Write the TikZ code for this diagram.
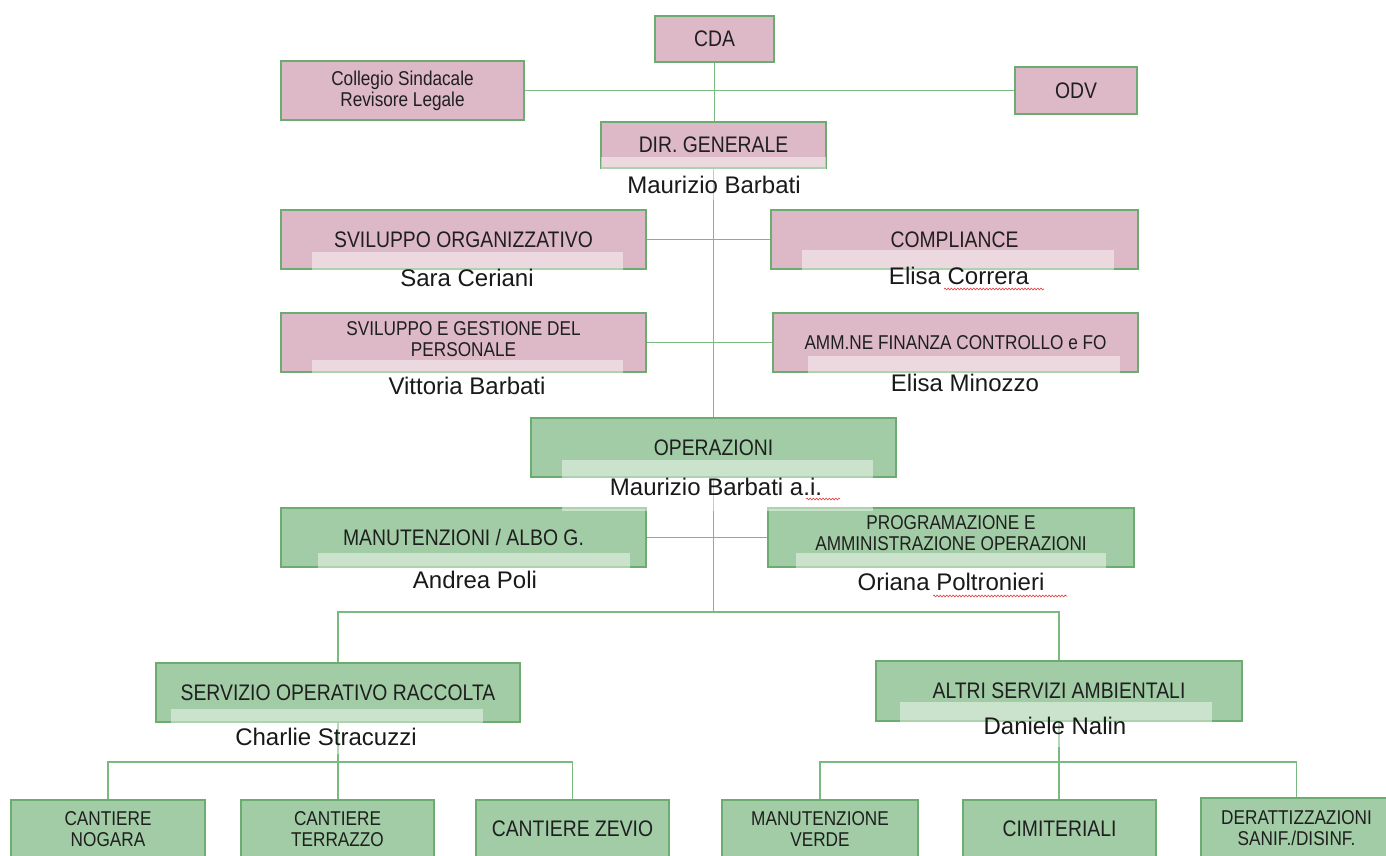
\documentclass[tikz,border=0pt]{standalone}
\usepackage{fontspec}
\setmainfont{Liberation Sans}
\newfontfamily\bxfont[FakeStretch=0.86]{Liberation Sans}
\usetikzlibrary{decorations.pathmorphing}
\definecolor{pinkf}{RGB}{221,184,198}
\definecolor{greenf}{RGB}{161,204,165}
\definecolor{bordc}{RGB}{108,172,112}
\definecolor{connc}{RGB}{122,186,126}
\definecolor{squig}{RGB}{228,60,60}
\pgfdeclarelayer{bg}
\pgfsetlayers{bg,main}
\tikzset{
  boxbase/.style={draw=bordc, line width=1.1pt, inner sep=0pt, align=center, text=black!88},
  pinkbox/.style={boxbase, fill=pinkf},
  greenbox/.style={boxbase, fill=greenf},
  bigtxt/.style={font=\bxfont\fontsize{22.5}{24}\selectfont},
  smalltxt/.style={font=\bxfont\fontsize{20}{21}\selectfont},
  nametxt/.style={font=\fontsize{24}{28}\selectfont, text=black!90, inner sep=0pt, anchor=base},
  conn/.style={draw=connc, line width=1.7pt},
  veil/.style={fill=white, fill opacity=0.45},
  spell/.style={draw=squig, line width=0.6pt, decorate, decoration={snake, amplitude=0.9pt, segment length=3.2pt}}
}
\begin{document}
\begin{tikzpicture}[x=1pt,y=-1pt]
\useasboundingbox (0,0) rectangle (1386,856);
\clip (0,0) rectangle (1386,856);
% boxes
\node[pinkbox, bigtxt, minimum width=119, minimum height=46] (cda) at (714.5,39) {CDA};
\node[pinkbox, smalltxt, minimum width=243, minimum height=59] (coll) at (402.5,90.5) {Collegio Sindacale\\Revisore Legale};
\node[pinkbox, bigtxt, minimum width=122, minimum height=47] (odv) at (1076,90.5) {ODV};
\node[pinkbox, bigtxt, minimum width=225, minimum height=46] (dir) at (713.5,145) {DIR. GENERALE};
\node[pinkbox, bigtxt, minimum width=365, minimum height=59] (svo) at (463.5,239.5) {SVILUPPO ORGANIZZATIVO};
\node[pinkbox, bigtxt, minimum width=367, minimum height=59] (comp) at (954.5,239.5) {COMPLIANCE};
\node[pinkbox, smalltxt, minimum width=365, minimum height=59] (sgp) at (463.5,342.5) {SVILUPPO E GESTIONE DEL\\PERSONALE\\[-14pt]};
\node[pinkbox, smalltxt, minimum width=365, minimum height=59] (amm) at (955.5,342.5) {AMM.NE FINANZA CONTROLLO e FO};
\node[greenbox, bigtxt, minimum width=365, minimum height=59] (ope) at (713.5,447.5) {OPERAZIONI};
\node[greenbox, bigtxt, minimum width=365, minimum height=59] (man) at (463.5,537.5) {MANUTENZIONI / ALBO G.};
\node[greenbox, smalltxt, minimum width=366, minimum height=59] (prog) at (951,537.5) {PROGRAMAZIONE E\\AMMINISTRAZIONE OPERAZIONI\\[-12pt]};
\node[greenbox, bigtxt, minimum width=364, minimum height=59] (sor) at (338,692.5) {SERVIZIO OPERATIVO RACCOLTA};
\node[greenbox, bigtxt, minimum width=366, minimum height=60] (asa) at (1059,691) {ALTRI SERVIZI AMBIENTALI};
\node[greenbox, smalltxt, minimum width=194, minimum height=58] (cn) at (108,829) {CANTIERE\\NOGARA};
\node[greenbox, smalltxt, minimum width=193, minimum height=58] (ct) at (337.5,829) {CANTIERE\\TERRAZZO};
\node[greenbox, bigtxt, minimum width=193, minimum height=58] (cz) at (572.5,829) {CANTIERE ZEVIO};
\node[greenbox, smalltxt, minimum width=196, minimum height=58] (mv) at (820,829) {MANUTENZIONE\\VERDE};
\node[greenbox, bigtxt, minimum width=193, minimum height=58] (cim) at (1059.5,829) {CIMITERIALI};
\node[greenbox, smalltxt, minimum width=191, minimum height=60] (der) at (1296.5,828) {DERATTIZZAZIONI\\SANIF./DISINF.};
% connectors
\coordinate (j1) at (ope.south |- 0,612);
\coordinate (j2) at (sor.south |- 0,762);
\coordinate (j3) at (asa.south |- 0,762);
\begin{pgfonlayer}{bg}
\draw[conn] (cda.south) -- (cda.south |- dir.north);
\draw[conn] (coll.east) -- (coll.east -| cda.south);
\draw[conn] (odv.west) -- (odv.west -| cda.south);
\draw[conn] (dir.south) -- (dir.south |- ope.north);
\draw[conn] (svo.east) -- (comp.west);
\draw[conn] (sgp.east) -- (amm.west);
\draw[conn] (man.east) -- (prog.west);
\draw[conn] (ope.south) -- (j1);
\draw[conn] (sor.north) |- (j1) -| (asa.north);
\draw[conn] (sor.south) -- (j2);
\draw[conn] (cn.north) |- (j2) -| (cz.north);
\draw[conn] (j2) -- (j2 |- ct.north);
\draw[conn] (asa.south) -- (j3);
\draw[conn] (mv.north) |- (j3) -| (der.north);
\draw[conn] (j3) -- (j3 |- cim.north);
\end{pgfonlayer}
% name text boxes (semi-transparent)
\fill[veil] (601,157) rectangle (826,200);
\fill[veil] (312,252) rectangle (623,297);
\fill[veil] (802,250) rectangle (1114,295);
\fill[veil] (312,360) rectangle (623,405);
\fill[veil] (808,356) rectangle (1120,401);
\fill[veil] (562,460) rectangle (873,511);
\fill[veil] (318,553) rectangle (630,598);
\fill[veil] (796,553) rectangle (1106,598);
\fill[veil] (171,709) rectangle (483,754);
\fill[veil] (900,702) rectangle (1212,747);
% names
\node[nametxt] (ndir) at (714,193) {Maurizio Barbati};
\node[nametxt] (nsvo) at (467,286) {Sara Ceriani};
\node[nametxt] (ncomp) at (959,284) {Elisa Correra};
\node[nametxt] (nsgp) at (467,394) {Vittoria Barbati};
\node[nametxt] (namm) at (965,391) {Elisa Minozzo};
\node[nametxt] (nope) at (716,495) {Maurizio Barbati a.i.};
\node[nametxt] (nman) at (475,588) {Andrea Poli};
\node[nametxt] (nprog) at (951,590) {Oriana Poltronieri};
\node[nametxt] (nsor) at (326,745) {Charlie Stracuzzi};
\node[nametxt] (nasa) at (1055,734) {Daniele Nalin};
% spell-check marks
\draw[spell] (944,289) -- (1044,289);
\draw[spell] (806,499) -- (840,499);
\draw[spell] (933,596) -- (1067,596);
\end{tikzpicture}
\end{document}
